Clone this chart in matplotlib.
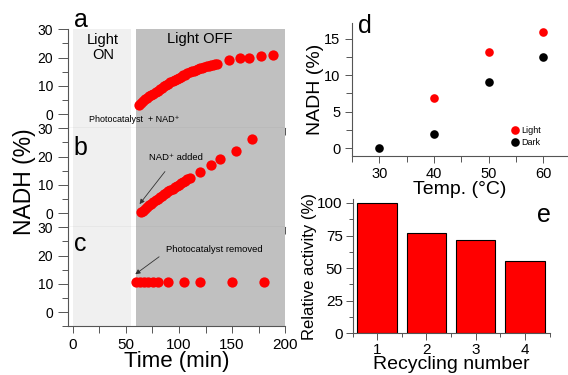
import numpy as np
import matplotlib
matplotlib.use('Agg')
from matplotlib import pyplot as plt
from matplotlib.ticker import MultipleLocator

plt.rcParams['font.family'] = ['Liberation Sans', 'DejaVu Sans']

# panel a: light on then off
a_time = [62, 64, 66, 68, 70, 72, 74, 76, 78, 80, 82, 84, 86, 88, 90, 92, 94, 96, 98, 100,
          102, 104, 106, 108, 110, 112, 114, 116, 118, 120, 122, 124, 126, 128, 130, 132, 134, 136,
          147, 157, 166, 177, 188]
a_nadh = [3.4, 4.0, 4.6, 5.2, 5.8, 6.3, 6.8, 7.3, 7.8, 8.3, 8.8, 9.3, 9.8, 10.3, 10.8, 11.2, 11.7, 12.1, 12.5, 12.9,
          13.3, 13.7, 14.0, 14.4, 14.8, 15.1, 15.4, 15.7, 15.9, 16.2, 16.4, 16.7, 16.9, 17.1, 17.3, 17.5, 17.6, 17.8,
          19.2, 19.8, 20.0, 20.7, 20.9]

# panel b: NAD+ added
b_time = [64, 66, 68, 70, 72, 74, 76, 78, 80, 82, 84, 86, 88, 90, 92, 94, 96, 98, 100,
          102, 104, 106, 108, 110, 120, 130, 139, 154, 169]
b_nadh = [0.4, 0.9, 1.6, 2.2, 2.8, 3.4, 3.9, 4.5, 5.1, 5.6, 6.2, 6.7, 7.2, 7.7, 8.2, 8.7, 9.1, 9.6, 10.0,
          10.5, 11.0, 11.4, 11.9, 12.4, 14.7, 17.0, 19.1, 22.1, 26.1]

# panel c: photocatalyst removed
c_time = [60, 63, 67, 71, 76, 80, 90, 105, 120, 150, 180]
c_nadh = [10.6, 10.6, 10.6, 10.6, 10.6, 10.6, 10.6, 10.6, 10.6, 10.6, 10.6]

# panel d: temperature
temp_light = [40, 50, 60]
nadh_light = [6.9, 13.2, 15.9]
temp_dark = [30, 40, 50, 60]
nadh_dark = [0.0, 1.9, 9.05, 12.5]

# panel e: recycling
cycles = [1, 2, 3, 4]
activity = [100, 77.2, 71.8, 55.5]

fig = plt.figure(figsize=(5.68, 3.75), dpi=100)

W, H = 568.0, 375.0
left_axes = []
for top, bot in [(29.3, 128.3), (128.3, 227.3), (227.3, 326.3)]:
    ax = fig.add_axes([68.3 / W, 1 - bot / H, 217 / W, (bot - top) / H])
    left_axes.append(ax)

for i, ax in enumerate(left_axes):
    ax.axvspan(0, 55.3, color='#f0f0f0', lw=0, zorder=0)
    ax.axvspan(60, 200, color='#c0c0c0', lw=0, zorder=0)
    ax.set_xlim(-4, 200)
    ax.set_ylim(-5, 30)
    ax.spines['top'].set_visible(False)
    ax.spines['right'].set_visible(False)
    ax.spines['left'].set_color('#555555')
    ax.spines['bottom'].set_color('#555555')
    ax.set_yticks([0, 10, 20, 30])
    ax.yaxis.set_minor_locator(MultipleLocator(5))
    ax.xaxis.set_major_locator(MultipleLocator(50))
    ax.xaxis.set_minor_locator(MultipleLocator(25))
    ax.tick_params(axis='y', which='major', length=7, width=0.7, color='#555555', labelsize=10, pad=4)
    ax.tick_params(axis='y', which='minor', length=4, width=0.7, color='#555555')
    ax.tick_params(axis='x', which='both', length=5, width=0.7, color='#555555', labelsize=11)
    if i < 2:
        ax.tick_params(axis='x', labelbottom=False)

ax_a, ax_b, ax_c = left_axes
ax_a.plot(a_time, a_nadh, 'o', color='red', markersize=7.4, markeredgewidth=0)
ax_b.plot(b_time, b_nadh, 'o', color='red', markersize=7.4, markeredgewidth=0)
ax_c.plot(c_time, c_nadh, 'o', color='red', markersize=7.4, markeredgewidth=0)

ax_a.text(1, 1.02, 'a', transform=ax_a.get_xaxis_transform(), fontsize=18, va='baseline')
ax_b.text(1, 0.73, 'b', transform=ax_b.get_xaxis_transform(), fontsize=18, va='baseline')
ax_c.text(1, 0.76, 'c', transform=ax_c.get_xaxis_transform(), fontsize=18, va='baseline')

ax_a.text(28.5, 23.6, 'Light\nON', ha='center', va='center', fontsize=10.5, linespacing=1.1)
ax_a.text(120, 29, 'Light OFF', ha='center', va='top', fontsize=10.5)
ax_a.text(15.3, -2.6, 'Photocatalyst  + NAD\u207a', fontsize=6.5, va='baseline')

ax_b.annotate('NAD\u207a added', xy=(63, 3.2), xytext=(97, 19.6), fontsize=6.8,
              ha='center', va='center',
              arrowprops=dict(arrowstyle='-|>', color='#333333', lw=0.6,
                              mutation_scale=7, shrinkB=0, shrinkA=6))
ax_c.annotate('Photocatalyst removed', xy=(59, 13.4), xytext=(133.6, 22.1), fontsize=6.8,
              ha='center', va='center',
              arrowprops=dict(arrowstyle='-|>', color='#333333', lw=0.6,
                              mutation_scale=7, shrinkB=0, shrinkA=4, relpos=(0.0, 0.3)))

ax_c.set_xticks([0, 50, 100, 150, 200])
ax_c.set_xlabel('Time (min)', fontsize=16, labelpad=-1)
fig.text(24 / W, 1 - 181.7 / H, 'NADH (%)', rotation=90, ha='center', va='center', fontsize=16.5)

# panel d
ax_d = fig.add_axes([352 / W, 1 - 155.5 / H, 216 / W, 132.2 / H])
ax_d.plot(temp_light, nadh_light, 'o', color='red', markersize=6.2, markeredgewidth=0, label='Light')
ax_d.plot(temp_dark, nadh_dark, 'o', color='black', markersize=6.2, markeredgewidth=0, label='Dark')
ax_d.set_xlim(25, 64.5)
ax_d.set_ylim(-1, 17.1)
ax_d.set_xticks([30, 40, 50, 60])
ax_d.xaxis.set_minor_locator(MultipleLocator(5))
ax_d.set_yticks([0, 5, 10, 15])
ax_d.yaxis.set_minor_locator(MultipleLocator(2.5))
ax_d.spines['top'].set_visible(False)
ax_d.spines['right'].set_visible(False)
ax_d.spines['left'].set_color('#555555')
ax_d.spines['bottom'].set_color('#555555')
ax_d.tick_params(which='major', length=5, width=0.7, color='#555555', labelsize=10.5)
ax_d.tick_params(which='minor', length=4, width=0.7, color='#555555')
ax_d.set_xlabel('Temp. (\u00b0C)', fontsize=14, labelpad=0)
ax_d.set_ylabel('NADH (%)', fontsize=14, labelpad=0)
ax_d.text(0.028, 0.925, 'd', transform=ax_d.transAxes, fontsize=18, va='baseline')
ax_d.legend(loc='lower left', bbox_to_anchor=(0.71, 0.03), frameon=False, fontsize=6.5,
            handletextpad=0.1, labelspacing=0.3, borderpad=0, handlelength=1.2)

# panel e
ax_e = fig.add_axes([352.5 / W, 1 - 333.3 / H, 197 / W, 134.3 / H])
ax_e.bar(cycles, activity, width=0.8, color='red', edgecolor='black', linewidth=0.8)
ax_e.set_xlim(0.5, 4.5)
ax_e.set_ylim(0, 103)
ax_e.set_xticks(cycles)
ax_e.xaxis.set_minor_locator(MultipleLocator(0.5))
ax_e.set_yticks([0, 25, 50, 75, 100])
ax_e.yaxis.set_minor_locator(MultipleLocator(12.5))
ax_e.spines['top'].set_visible(False)
ax_e.spines['right'].set_visible(False)
ax_e.spines['left'].set_color('#555555')
ax_e.spines['bottom'].set_color('#555555')
ax_e.tick_params(which='major', length=5, width=0.7, color='#555555', labelsize=11, pad=2)
ax_e.tick_params(which='minor', length=3, width=0.7, color='#555555')
ax_e.set_xlabel('Recycling number', fontsize=14, labelpad=-1)
ax_e.set_ylabel('Relative activity (%)', fontsize=12, labelpad=0)
ax_e.text(0.935, 0.83, 'e', transform=ax_e.transAxes, fontsize=18, va='baseline')

fig.savefig('out.png', dpi=100)
